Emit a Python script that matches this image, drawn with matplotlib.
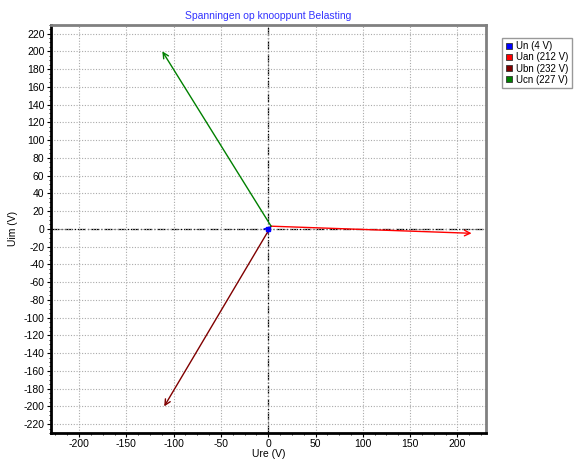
import matplotlib
matplotlib.use("Agg")
import matplotlib.pyplot as plt
from matplotlib.lines import Line2D
from matplotlib.ticker import MultipleLocator, AutoMinorLocator

# phasor data (V): start and end points in the complex plane
names = ['Un (4 V)', 'Uan (212 V)', 'Ubn (232 V)', 'Ucn (227 V)']
colors = ['#0000ff', '#ff0000', '#800000', '#008000']
start_re = [0, 3, 3, 3]
start_im = [0, 3, 3, 3]
end_re = [3, 215, -110, -112]
end_im = [3, -5, -200, 200]

plt.rcParams['font.family'] = ['Liberation Sans', 'DejaVu Sans']
plt.rcParams['axes.unicode_minus'] = False

fig = plt.figure(figsize=(5.79, 4.59), dpi=100)
ax = fig.add_axes([0.0876, 0.0566, 0.7514, 0.8896])

ax.set_xlim(-230, 230)
ax.set_ylim(-230, 230)
ax.xaxis.set_major_locator(MultipleLocator(50))
ax.yaxis.set_major_locator(MultipleLocator(20))
ax.xaxis.set_minor_locator(AutoMinorLocator(4))
ax.yaxis.set_minor_locator(AutoMinorLocator(4))
ax.grid(True, which='major', color='#aaaaaa', ls=(0, (1, 1.5)), lw=0.8)
ax.axhline(0, color='black', ls='-.', lw=0.9, zorder=1)
ax.axvline(0, color='black', ls='-.', lw=0.9, zorder=1)

ax.tick_params(which='major', direction='out', length=3, width=0.8, labelsize=7.5, pad=1.5)
ax.tick_params(which='minor', direction='out', length=1.5, width=0.6)
ax.tick_params(top=False, right=False)

for s in ['left', 'bottom']:
    ax.spines[s].set_color('black')
    ax.spines[s].set_linewidth(2)
for s in ['top', 'right']:
    ax.spines[s].set_color('#808080')
    ax.spines[s].set_linewidth(2)

for i in range(len(names)):
    ax.annotate('', xy=(end_re[i], end_im[i]), xytext=(start_re[i], start_im[i]),
                arrowprops=dict(arrowstyle='->', color=colors[i], lw=1,
                                mutation_scale=10, shrinkA=0, shrinkB=0))
ax.plot([0], [0], marker='s', ms=3, color=colors[0], zorder=5)

ax.set_title('Spanningen op knooppunt Belasting', color='#3333ff', fontsize=7.5, pad=4)
ax.set_xlabel('Ure (V)', fontsize=7.5, labelpad=0)
ax.set_ylabel('Uim (V)', fontsize=7.5, labelpad=4)

handles = [Line2D([], [], ls='none', marker='s', ms=5, markerfacecolor=c,
                  markeredgecolor='#333333', markeredgewidth=0.6) for c in colors]
fig.legend(handles, names, loc='upper left', bbox_to_anchor=(0.858, 0.928),
           fontsize=7, frameon=True, fancybox=False, edgecolor='#808080',
           handlelength=0.8, handletextpad=0.3, borderpad=0.35, labelspacing=0.12)

fig.savefig('out.png', dpi=100)
